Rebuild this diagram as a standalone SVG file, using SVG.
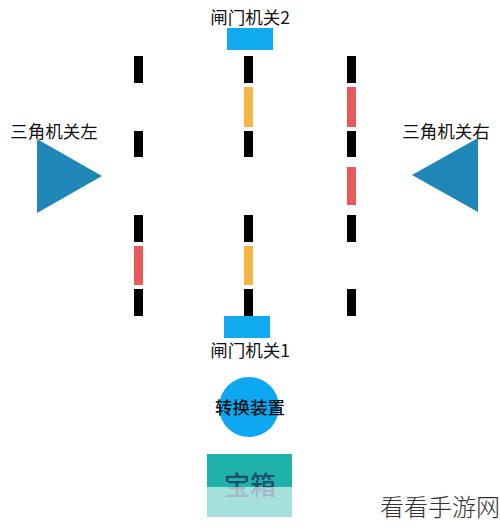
<svg xmlns="http://www.w3.org/2000/svg" width="500" height="526" viewBox="0 0 500 526">
<style>
text{font-family:"Noto Sans CJK SC","Noto Sans",sans-serif;fill:#111;text-anchor:middle}
.lbl{font-size:17.5px}
.blk{fill:#000}
.org{fill:#f2b646}
.red{fill:#e85a5a}
.gate{fill:#0faaf0}
.tri{fill:#1f87b8}
</style>
<rect width="500" height="526" fill="#fff"/>
<g id="gate2">
<text class="lbl" x="250" y="24">闸门机关2</text>
<rect class="gate" x="227" y="28" width="46" height="22"/>
</g>
<g id="col-left">
<rect class="blk" x="134" y="56" width="9" height="27"/>
<rect class="blk" x="134" y="131" width="9" height="26"/>
<rect class="blk" x="134" y="215" width="9" height="27"/>
<rect class="red" x="134" y="246" width="9" height="39"/>
<rect class="blk" x="134" y="289" width="9" height="27"/>
</g>
<g id="col-mid">
<rect class="blk" x="244" y="56" width="9" height="27"/>
<rect class="org" x="244" y="87" width="9" height="40"/>
<rect class="blk" x="244" y="131" width="9" height="26"/>
<rect class="blk" x="244" y="215" width="9" height="27"/>
<rect class="org" x="244" y="246" width="9" height="39"/>
<rect class="blk" x="244" y="289" width="9" height="27"/>
</g>
<g id="col-right">
<rect class="blk" x="347" y="56" width="9" height="27"/>
<rect class="red" x="347" y="87" width="9" height="40"/>
<rect class="blk" x="347" y="131" width="9" height="26"/>
<rect class="red" x="347" y="167" width="9" height="38"/>
<rect class="blk" x="347" y="215" width="9" height="27"/>
<rect class="blk" x="347" y="289" width="9" height="27"/>
</g>
<g id="tri-left">
<text class="lbl" x="54" y="138">三角机关左</text>
<polygon class="tri" points="37,139 102,176 37,213"/>
</g>
<g id="tri-right">
<text class="lbl" x="446" y="138">三角机关右</text>
<polygon class="tri" points="478,138 412,175 478,212"/>
</g>
<g id="gate1">
<rect class="gate" x="224" y="316" width="46" height="22"/>
<text class="lbl" x="250" y="357">闸门机关1</text>
</g>
<g id="switch">
<circle cx="249" cy="407" r="30" fill="#0ea8f2"/>
<text class="lbl" x="250" y="414" style="font-weight:500">转换装置</text>
</g>
<g id="chest">
<rect x="207" y="454" width="85" height="63" fill="#1fb2aa"/>
<text x="250" y="495" style="font-size:26px;fill:#1d4f6e;font-weight:500">宝箱</text>
<rect x="207" y="487" width="85" height="30" fill="#fff" fill-opacity="0.6"/>
</g>
<text x="440" y="516" style="font-size:24px;fill:#333;font-weight:300">看看手游网</text>
</svg>
